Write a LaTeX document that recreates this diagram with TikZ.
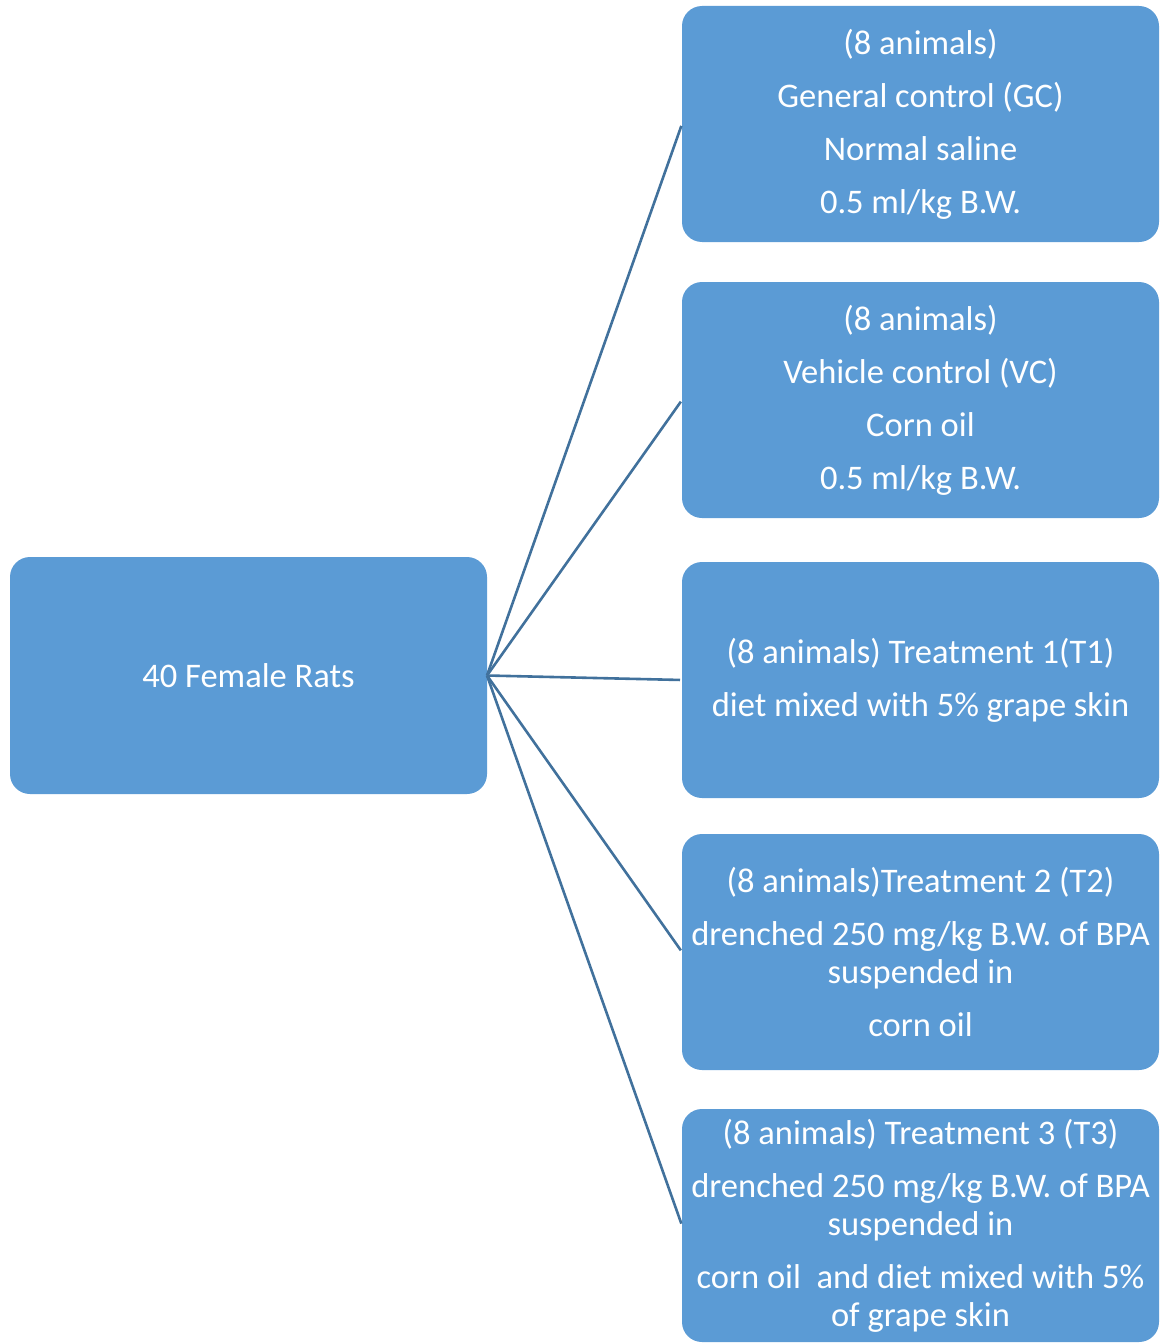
\documentclass[tikz,border=0pt]{standalone}
\usepackage{fontspec}
\setmainfont{Carlito}
\definecolor{boxblue}{HTML}{5B9BD5}
\definecolor{linkblue}{HTML}{41719C}
\tikzset{
    groupbox/.style={fill=boxblue, rounded corners=20pt, text=white, align=center,
        minimum width=477pt, minimum height=236pt, inner sep=0pt, outer sep=0pt,
        font=\fontsize{34.5}{38}\selectfont},
    link/.style={draw=linkblue, line width=2.6pt, shorten >=2pt}
}
\begin{document}
\begin{tikzpicture}[x=1pt,y=-1pt]
                \useasboundingbox (0,0) rectangle (1161,1343);
                
                \node[groupbox, minimum height=237pt] (rats) at (248.5,675.5) {40 Female Rats};
                
                \node[groupbox] (gc) at (920.5,124) {(8 animals)\\[15pt] General control (GC)\\[15pt] Normal saline\\[15pt] 0.5 ml/kg B.W.};
                \node[groupbox] (vc) at (920.5,400) {(8 animals)\\[15pt] Vehicle control (VC)\\[15pt] Corn oil\\[15pt] 0.5 ml/kg B.W.};
                \node[groupbox] (t1) at (920.5,680) {(8 animals) Treatment 1(T1)\\[15pt] diet mixed with 5\% grape skin};
                \node[groupbox] (t2) at (920.5,952) {(8 animals)Treatment 2 (T2)\\[15pt] drenched 250 mg/kg B.W. of BPA\\ suspended in\\[15pt] corn oil};
                \node[groupbox, minimum height=233pt] (t3) at (920.5,1225.5) {(8 animals) Treatment 3 (T3)\\[15pt] drenched 250 mg/kg B.W. of BPA\\ suspended in\\[15pt] corn oil~ and diet mixed with 5\%\\ of grape skin};
                
                % connect rats to each group
                \foreach \g in {gc, vc, t1, t2, t3} {
                    \draw[link] (rats.east) -- (\g.west);
                }
            \end{tikzpicture}
\end{document}
